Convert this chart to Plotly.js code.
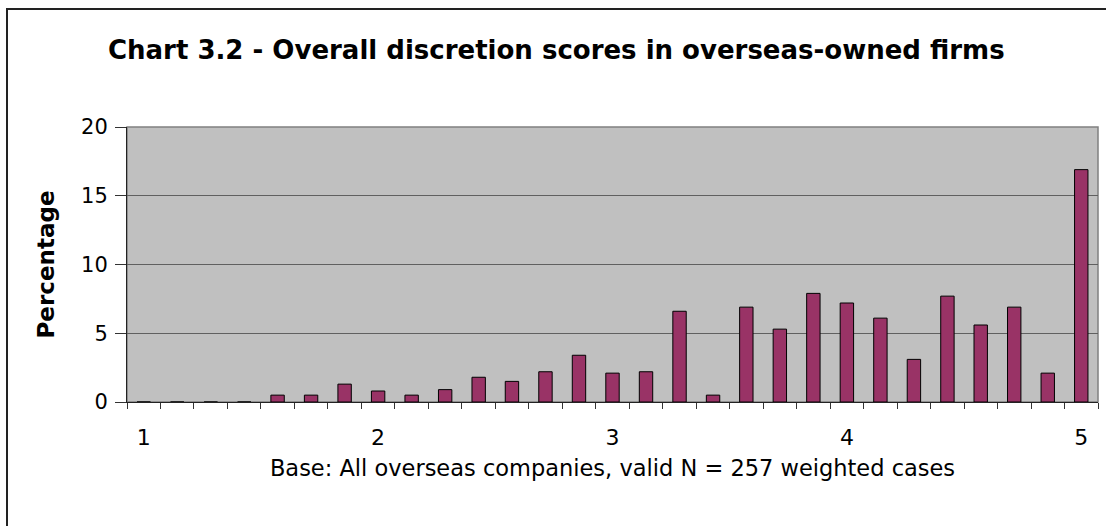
<!DOCTYPE html>
<html>
<head>
<meta charset="utf-8">
<script src="https://cdn.plot.ly/plotly-3.0.1.min.js"></script>
<style>
  html, body { margin: 0; padding: 0; background: #ffffff; }
  #wrap { position: relative; width: 1106px; height: 526px; overflow: hidden; }
  #chart { width: 1106px; height: 526px; }
  #frame { position: absolute; left: 6px; top: 8px; width: 1200px; height: 700px;
           border-left: 2px solid #222; border-top: 2px solid #222; pointer-events: none; }
</style>
</head>
<body>
<div id="wrap">
  <div id="chart"></div>
  <div id="frame"></div>
</div>
<script>
// Overall discretion score categories (steps of 1/7 from 1 to 5)
const scores = [1, 1.143, 1.286, 1.429, 1.571, 1.714, 1.857,
                2, 2.143, 2.286, 2.429, 2.571, 2.714, 2.857,
                3, 3.143, 3.286, 3.429, 3.571, 3.714, 3.857,
                4, 4.143, 4.286, 4.429, 4.571, 4.714, 4.857,
                5];
// Percentage of overseas-owned firms at each score
const percentages = [0, 0, 0, 0, 0.5, 0.5, 1.3,
                     0.8, 0.5, 0.9, 1.8, 1.5, 2.2, 3.4,
                     2.1, 2.2, 6.6, 0.5, 6.9, 5.3, 7.9,
                     7.2, 6.1, 3.1, 7.7, 5.6, 6.9, 2.1,
                     16.9];
const xTickVals = [1, 2, 3, 4, 5];
const xTickText = ['1', '2', '3', '4', '5'];
const yTickVals = [0, 5, 10, 15, 20];

const step = 1 / 7;
const xRange = [1 - step / 2, 5 + step / 2];
const FONT = 'DejaVu Sans, Liberation Sans, Arial, sans-serif';

const trace = {
  type: 'bar',
  x: scores,
  y: percentages,
  width: step * 0.4,
  marker: { color: '#993366', line: { color: '#000000', width: 1 } },
  hoverinfo: 'skip'
};

const layout = {
  width: 1106,
  height: 526,
  margin: { l: 127, r: 8, t: 127, b: 124, pad: 0 },
  paper_bgcolor: '#ffffff',
  plot_bgcolor: '#C0C0C0',
  showlegend: false,
  hovermode: false,
  font: { family: FONT, color: '#000000' },
  title: {
    text: '<b>Chart 3.2 - Overall discretion scores in overseas-owned firms</b>',
    font: { family: FONT, size: 26, color: '#000000' },
    xref: 'container', x: 0.503, xanchor: 'center',
    yref: 'container', y: 1 - 50 / 526, yanchor: 'middle'
  },
  xaxis: {
    range: xRange,
    tickmode: 'array',
    tickvals: xTickVals,
    ticktext: xTickText,
    ticks: '',
    ticklabelstandoff: 16,
    showgrid: false,
    zeroline: false,
    showline: true,
    linecolor: '#222222',
    linewidth: 1,
    tickfont: { family: FONT, size: 22, color: '#000000' },
    title: {
      text: 'Base: All overseas companies, valid N = 257 weighted cases',
      font: { family: FONT, size: 22.5, color: '#000000' },
      standoff: 10
    }
  },
  xaxis2: {
    overlaying: 'x',
    anchor: 'y',
    side: 'bottom',
    range: xRange,
    tickmode: 'linear',
    tick0: xRange[0],
    dtick: step,
    ticks: 'outside',
    ticklen: 6,
    tickcolor: '#333333',
    tickwidth: 1,
    showticklabels: false,
    showgrid: false,
    zeroline: false,
    showline: false
  },
  yaxis: {
    range: [0, 20],
    tickmode: 'array',
    tickvals: yTickVals,
    ticks: 'outside',
    ticklen: 11,
    tickcolor: '#333333',
    ticklabelstandoff: 3,
    showgrid: true,
    gridcolor: '#606060',
    gridwidth: 1.3,
    zeroline: false,
    showline: true,
    linecolor: '#222222',
    linewidth: 1,
    tickfont: { family: FONT, size: 21, color: '#000000' },
    title: {
      text: '<b>Percentage</b>',
      font: { family: FONT, size: 23, color: '#000000' },
      standoff: 20
    }
  },
  shapes: [{
    type: 'rect', xref: 'paper', yref: 'paper',
    x0: 0, x1: 1, y0: 0, y1: 1,
    line: { color: '#808080', width: 1.5 },
    fillcolor: 'rgba(0,0,0,0)',
    layer: 'below'
  }]
};

const ghost = { type: 'scatter', x: [], y: [], xaxis: 'x2', yaxis: 'y', hoverinfo: 'skip', showlegend: false };

Plotly.newPlot('chart', [trace, ghost], layout, { staticPlot: true, displayModeBar: false });
</script>
</body>
</html>
